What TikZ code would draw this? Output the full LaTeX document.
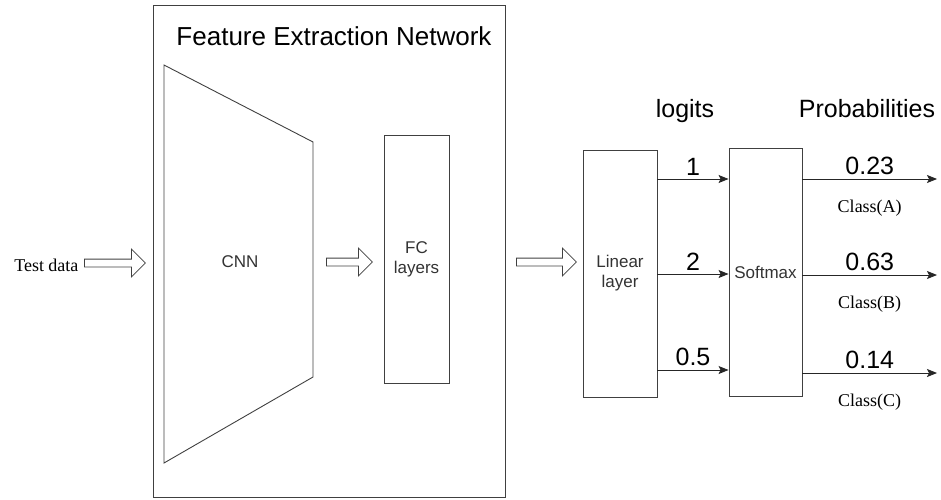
\documentclass[tikz,border=0pt]{standalone}
\usepackage{fontspec}
\setmainfont{Liberation Serif}
\setsansfont{Liberation Sans}
\usetikzlibrary{shapes.arrows,arrows.meta}
\tikzset{
  box/.style={draw=black!75, line width=0.9pt, align=center, text=black!80, font=\sffamily\fontsize{17}{20}\selectfont},
  hollow/.style={single arrow, draw=black!75, line width=0.8pt, inner xsep=0pt, inner ysep=3.5pt,
    single arrow head extend=10pt, minimum height=#1, anchor=west},
  big/.style={font=\sffamily\fontsize{25}{28}\selectfont},
  cls/.style={font=\rmfamily\fontsize{18}{20}\selectfont},
  flow/.style={draw=black!85, line width=0.9pt, -{Stealth[length=10pt,width=8pt,inset=2pt]}}
}
\begin{document}
\begin{tikzpicture}[x=1pt, y=-1pt]
  \useasboundingbox (0,0) rectangle (941,499);
  \node[box, minimum width=352pt, minimum height=492pt] (fen) at (329,251) {};
  \node[big, anchor=base, font=\sffamily\fontsize{26}{30}\selectfont] (title) at (334,45) {Feature Extraction Network};
  \draw[draw=black!75, line width=0.9pt] (164,65) -- (313,142) -- (313,377) -- (164,463) -- cycle;
  \node[box, draw=none] (cnn) at (240,262) {CNN};
  \node[box, minimum width=65pt, minimum height=248pt] (fc) at (416.5,259) {FC\\layers};
  \node[box, minimum width=74pt, minimum height=247pt] (lin) at (620,273.5) {Linear\\layer};
  \node[box, minimum width=73pt, minimum height=248pt] (soft) at (765.5,272) {Softmax};

  \node[cls, anchor=east] (test) at (82,265) {Test data};
  \node[hollow=61pt] (arr1) at (84,263) {};
  \node[hollow=46pt] (arr2) at (326,262) {};
  \node[hollow=60pt] (arr3) at (516,262) {};

  \node[big, anchor=base] (logits) at (685,117) {logits};
  \node[big, anchor=base] (probs) at (867,117) {Probabilities};

  \draw[flow] (lin.east |- 0,179) -- (soft.west |- 0,179) node[big, midway, above] {1};
  \draw[flow] (lin.east |- 0,274) -- (soft.west |- 0,274) node[big, midway, above] {2};
  \draw[flow] (lin.east |- 0,370) -- (soft.west |- 0,370) node[big, midway, above] {0.5};

  \coordinate (outA) at (937,179);
  \coordinate (outB) at (937,275);
  \coordinate (outC) at (937,373);
  \draw[flow] (soft.east |- outA) -- (outA) node[big, midway, above] {0.23} node[cls, midway, below=17pt] {Class(A)};
  \draw[flow] (soft.east |- outB) -- (outB) node[big, midway, above] {0.63} node[cls, midway, below=17pt] {Class(B)};
  \draw[flow] (soft.east |- outC) -- (outC) node[big, midway, above] {0.14} node[cls, midway, below=17pt] {Class(C)};
\end{tikzpicture}
\end{document}
